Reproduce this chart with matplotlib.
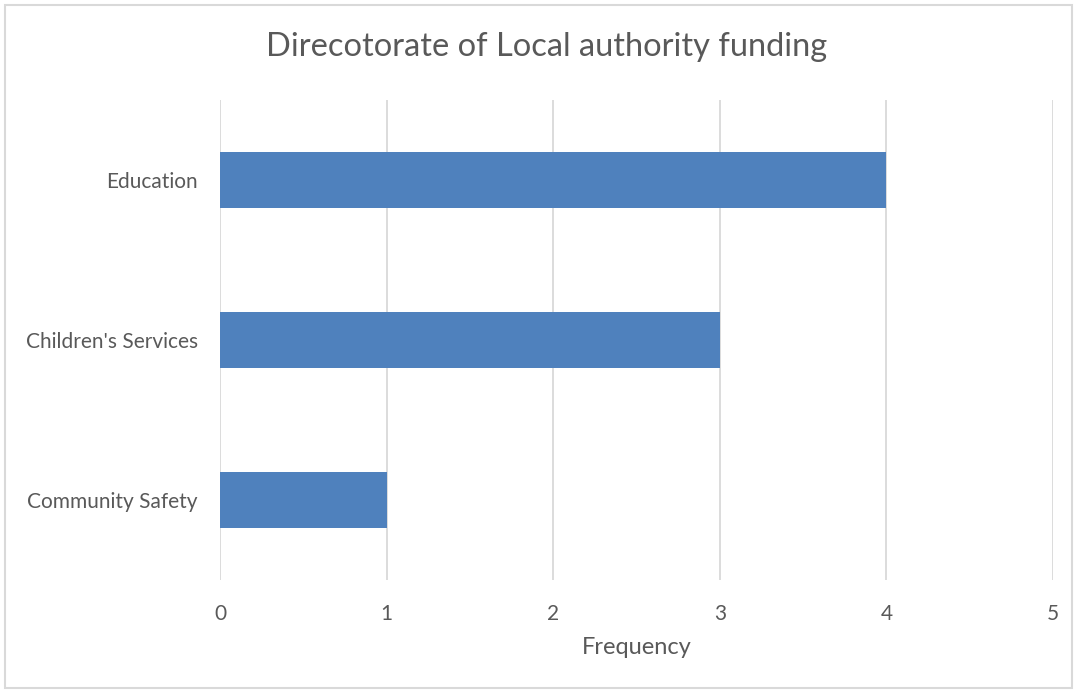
import matplotlib
matplotlib.use("Agg")
import matplotlib.pyplot as plt
from matplotlib.patches import Rectangle

categories = ["Community Safety", "Children's Services", "Education"]
values = [1, 3, 4]
xticks = [0, 1, 2, 3, 4, 5]

W, H = 1077, 693
fig = plt.figure(figsize=(W / 100, H / 100), dpi=100)
plt.rcParams['font.family'] = ['Lato', 'DejaVu Sans']
text_col = '#595959'
grid_col = '#D9D9D9'

ax = fig.add_axes([220 / W, 1 - 580 / H, (1053 - 220) / W, 480 / H])
ypos = list(range(len(categories)))
ax.barh(ypos, values, height=0.35, color='#4F81BD', zorder=3)
ax.set_xlim(0, 5)
ax.set_ylim(-0.5, len(categories) - 0.5)
ax.set_xticks(xticks)
ax.set_xticklabels([str(t) for t in xticks])
ax.set_yticks(ypos)
ax.set_yticklabels(categories)
ax.grid(axis='x', color=grid_col, linewidth=1.3, zorder=0)
for s in ax.spines.values():
    s.set_visible(False)
ax.tick_params(axis='both', length=0, labelsize=15, colors=text_col)
ax.tick_params(axis='x', pad=17)
ax.tick_params(axis='y', pad=16)
ax.set_xlabel('Frequency', fontsize=17, color=text_col, labelpad=10)

fig.text(547 / W, 1 - 47 / H, 'Direcotorate of Local authority funding',
         ha='center', va='center', fontsize=23.5, color=text_col)

fig.patches.append(Rectangle((5 / W, 5 / H), (1072 - 5) / W, (688 - 5) / H,
                             transform=fig.transFigure, fill=False,
                             edgecolor='#D9D9D9', linewidth=1.5))

fig.savefig('out.png', dpi=100)
